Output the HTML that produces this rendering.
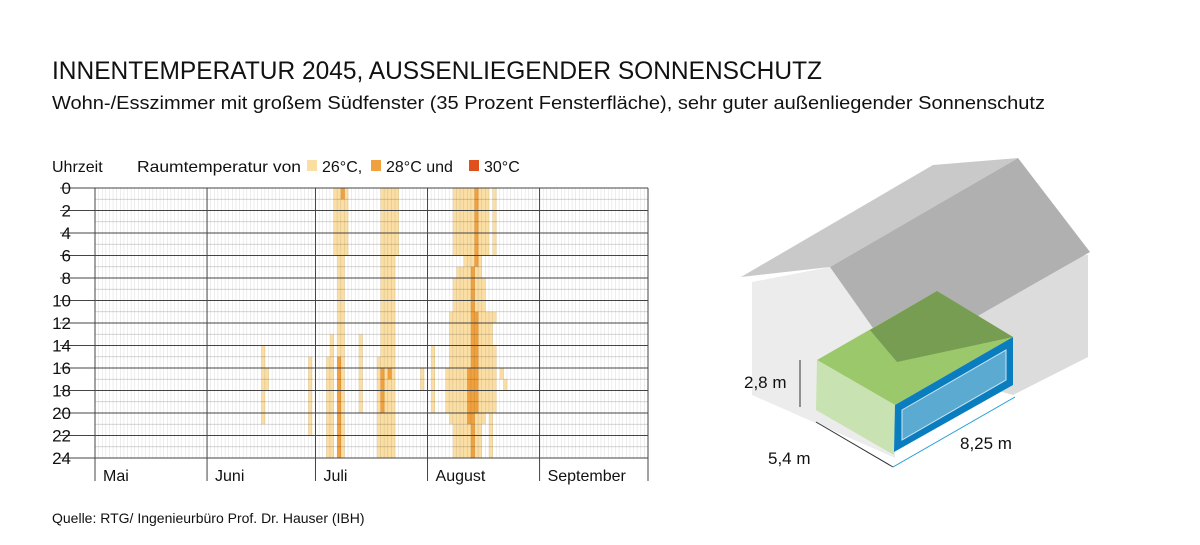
<!DOCTYPE html>
<html><head><meta charset="utf-8"><style>
body{margin:0;background:#fff;}
svg text{font-family:"Liberation Sans",sans-serif;fill:#111;}
</style></head><body>
<svg id="chart" width="1200" height="540" viewBox="0 0 1200 540" xmlns="http://www.w3.org/2000/svg">
<rect width="1200" height="540" fill="#fff"/>
<text x="52" y="79" font-size="25" textLength="770" lengthAdjust="spacingAndGlyphs">INNENTEMPERATUR 2045, AUSSENLIEGENDER SONNENSCHUTZ</text>
<text x="52" y="109" font-size="18" textLength="993" lengthAdjust="spacingAndGlyphs">Wohn-/Esszimmer mit großem Südfenster (35 Prozent Fensterfläche), sehr guter außenliegender Sonnenschutz</text>
<text x="52" y="172" font-size="16">Uhrzeit</text>
<g>
<text x="137" y="172" font-size="16" textLength="164" lengthAdjust="spacingAndGlyphs">Raumtemperatur von</text>
<rect x="307" y="160" width="10" height="11" fill="#fbdea3"/>
<text x="322" y="172" font-size="16">26°C,</text>
<rect x="371" y="160" width="10" height="11" fill="#f0a03c"/>
<text x="386" y="172" font-size="16">28°C und</text>
<rect x="469" y="160" width="10" height="11" fill="#e0501c"/>
<text x="484" y="172" font-size="16">30°C</text>
</g>
<g id="cells"></g>
<g id="grid"></g>
<g id="axes"></g>
<text x="52" y="523" font-size="14">Quelle: RTG/ Ingenieurbüro Prof. Dr. Hauser (IBH)</text>

<g>
<polygon points="752,282 830,267 897,362 895,458 752,395" fill="#ececec"/>
<polygon points="830,267 1088,255 1088,357 1013,395 897,362" fill="#dcdcdc"/>
<polygon points="741,277 933,165 1018,158 830,267" fill="#c9c9c9"/>
<polygon points="830,267 1018,158 1090,252 897,362" fill="#b0b0b0"/>
<polygon points="817,360 937,291 1013,337 895,405" fill="#9cc86c"/>
<polygon points="870,330 937,291 1013,337 897,362" fill="#5a7a40" opacity="0.55"/>
<polygon points="817,360 895,405 894,455 816,410" fill="#c9e2b1"/>
<polygon points="895,405 1013,337 1013,385 894,452" fill="#0a7dbf"/>
<polygon points="902,410 1006,350 1006,380 902,440" fill="#5aaad2" stroke="#cde6f3" stroke-width="1"/>
<line x1="800" y1="360" x2="800" y2="407" stroke="#333" stroke-width="1"/>
<line x1="816" y1="422" x2="893" y2="467" stroke="#333" stroke-width="1"/>
<line x1="893" y1="467" x2="1015" y2="397" stroke="#1a9ad6" stroke-width="1"/>
<text x="744" y="388" font-size="17">2,8 m</text>
<text x="768" y="464" font-size="17">5,4 m</text>
<text x="960" y="449" font-size="17">8,25 m</text>
</g>
</svg>
<script>
// heatmap data: [dayIndex from 1 May, startHour, endHour, level]
const segDays   = [46,47,59, 66,67,68,69, 68, 65,64, 67, 73, 79,80,81,82,83, 78, 79,81, 90, 93];
const segStart  = [14,16,15, 0, 0, 0, 0, 0, 13,15, 15, 13, 0, 0, 0, 0, 0, 15, 16,16, 16, 14];
const segEnd    = [21,18,22, 6,24,24, 6, 1, 24,24, 24, 20, 24,24,24,24,6, 24, 20,17, 18, 20];
const segLevel  = [1, 1, 1,  1, 1, 1, 1, 2, 1, 1, 2,  1, 1, 1, 1, 1, 1, 1,  2, 2,  1,  1];
// August block rows: [hourStart, hourEnd, firstDay, lastDay]
const augStart = [0, 6, 7, 8, 11, 14, 16, 18, 20, 21];
const augEnd   = [6, 7, 8, 11, 14, 16, 18, 20, 21, 24];
const augFirst = [99,102,100,99,98,98,97,97,98,99];
const augLast  = [108,106,106,107,109,110,110,110,107,106];
const augDarkFirst = [105,105,104,104,104,104,103,103,103,104];
const augDarkLast  = [105,105,104,104,105,105,105,105,104,104];
const extraDays  = [110,110,112,113,109];
const extraStart = [0, 11, 16, 17, 20];
const extraEnd   = [6, 12, 17, 18, 24];
const months = ["Mai","Juni","Juli","August","September"];
const monthDays = [31,30,31,31,30];
const hourTicks = [0,2,4,6,8,10,12,14,16,18,20,22,24];

const NS="http://www.w3.org/2000/svg";
const X0=95,X1=648,Y0=188,Y1=458,ND=153;
const xs=d=>X0+d*(X1-X0)/ND;
const ys=h=>Y0+h*(Y1-Y0)/24;
const colors={1:"#fbdea3",2:"#f0a03c",3:"#e0501c"};
const cells=document.getElementById('cells');
function cell(d,h0,h1,l){
  const r=document.createElementNS(NS,'rect');
  r.setAttribute('x',xs(d));r.setAttribute('y',ys(h0));
  r.setAttribute('width',xs(d+1)-xs(d)+0.3);r.setAttribute('height',ys(h1)-ys(h0));
  r.setAttribute('fill',colors[l]);
  
  
  cells.appendChild(r);
}
segDays.forEach((d,i)=>{ if(segLevel[i]===1) cell(d,segStart[i],segEnd[i],1); });
augStart.forEach((h,i)=>{ for(let d=augFirst[i];d<=augLast[i];d++) cell(d,h,augEnd[i],1); });
extraDays.forEach((d,i)=>cell(d,extraStart[i],extraEnd[i],1));
segDays.forEach((d,i)=>{ if(segLevel[i]>1) cell(d,segStart[i],segEnd[i],segLevel[i]); });
augStart.forEach((h,i)=>{ for(let d=augDarkFirst[i];d<=augDarkLast[i];d++) cell(d,h,augEnd[i],2); });

const grid=document.getElementById('grid');
function line(x1,y1,x2,y2,c,w,name,g){
  const l=document.createElementNS(NS,'line');
  l.setAttribute('x1',x1);l.setAttribute('y1',y1);l.setAttribute('x2',x2);l.setAttribute('y2',y2);
  l.setAttribute('stroke',c);l.setAttribute('stroke-width',w);
  
  
  (g||grid).appendChild(l);
}
for(let d=1;d<ND;d++) line(xs(d),Y0,xs(d),Y1,"rgba(0,0,0,0.12)",0.6,'day-gridline');
for(let h=1;h<24;h+=2) line(X0,ys(h),X1,ys(h),"rgba(0,0,0,0.22)",0.8,'hour-gridline');
const axes=document.getElementById('axes');
hourTicks.forEach(h=>{
  line(60,ys(h),X1,ys(h),"#444",1,'hour-major-gridline',axes);
  const t=document.createElementNS(NS,'text');
  t.setAttribute('x',71);t.setAttribute('y',ys(h)+6);t.setAttribute('font-size','17');t.setAttribute('text-anchor','end');
  t.textContent=h;
  
  
  axes.appendChild(t);
});
let acc=0;
months.forEach((m,i)=>{
  line(xs(acc),Y0,xs(acc),481,"#444",1,'month-divider',axes);
  const t=document.createElementNS(NS,'text');
  t.setAttribute('x',xs(acc)+8);t.setAttribute('y',481);t.setAttribute('font-size','16');
  t.textContent=m;
  
  
  axes.appendChild(t);
  acc+=monthDays[i];
});
line(X1,Y0,X1,481,"#444",1,'chart-right-edge',axes);
</script>
</body></html>
